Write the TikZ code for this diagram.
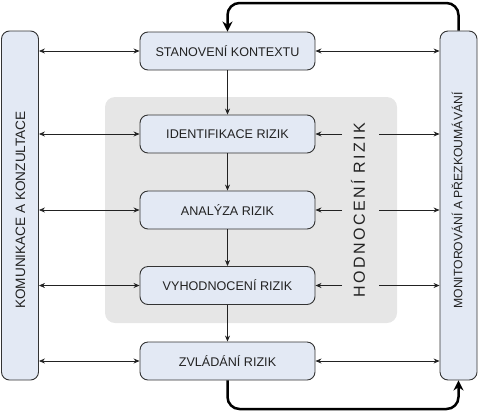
\documentclass[tikz,border=0pt]{standalone}
\usepackage{fontspec}
\setmainfont{Liberation Sans}
\newfontfamily\hodfont[LetterSpace=15]{Liberation Sans}
\usetikzlibrary{arrows.meta}
\definecolor{boxfill}{HTML}{E3E9F4}
\definecolor{greyreg}{HTML}{E6E6E6}
\definecolor{boxline}{HTML}{333333}
\definecolor{txt}{HTML}{222222}
\begin{document}
\begin{tikzpicture}[x=1pt,y=-1pt,
  box/.style={draw=boxline, fill=boxfill, rounded corners=8pt, line width=0.9pt, inner sep=0pt},
  mainbox/.style={box, minimum width=175pt, minimum height=38pt, text=txt, font=\fontsize{12.6}{14}\selectfont},
  sidebox/.style={box, minimum width=37pt, minimum height=349pt},
  sidetext/.style={rotate=90, text=txt, inner sep=0pt},
  link/.style={{Stealth[length=6pt,width=5pt]}-{Stealth[length=6pt,width=5pt]}, line width=0.7pt, draw=txt},
  arr/.style={-{Stealth[length=6pt,width=5pt]}, line width=0.7pt, draw=txt},
  loopline/.style={-{Stealth[length=10pt,width=10pt]}, line width=2.5pt, draw=black, rounded corners=12pt}
]
\useasboundingbox (0,0) rectangle (478,413);

% grey evaluation region
\node[fill=greyreg, rounded corners=10pt, minimum width=292pt, minimum height=226pt, inner sep=0pt] (hod) at (251,210) {};
\node[sidetext, font=\hodfont\fontsize{16}{18}\selectfont] (hodt) at (358,210) {HODNOCENÍ RIZIK};

% side boxes
\node[sidebox] (kom) at (20,205.5) {};
\node[sidetext, font=\fontsize{13.6}{15}\selectfont] (komt) at (20.5,210) {KOMUNIKACE A KONZULTACE};
\node[sidebox] (mon) at (458.5,205.5) {};
\node[sidetext, font=\fontsize{12.2}{14}\selectfont] (mont) at (457,200.5) {MONITOROVÁNÍ A PŘEZKOUMÁVÁNÍ};

% main boxes
\node[mainbox] (sta) at (227.5,51) {STANOVENÍ KONTEXTU};
\node[mainbox] (ide) at (227.5,134) {IDENTIFIKACE RIZIK};
\node[mainbox] (ana) at (227.5,210) {ANALÝZA RIZIK};
\node[mainbox] (vyh) at (227.5,285.5) {VYHODNOCENÍ RIZIK};
\node[mainbox] (zvl) at (227.5,361) {ZVLÁDÁNÍ RIZIK};

% vertical flow
\draw[arr] (sta.south) -- (ide.north);
\draw[arr] (ide.south) -- (ana.north);
\draw[arr] (ana.south) -- (vyh.north);
\draw[arr] (vyh.south) -- (zvl.north);

% left links
\foreach \n in {sta,ide,ana,vyh,zvl}
  \draw[link] (kom.east |- \n) -- (\n.west);

% right links
\draw[link] (sta.east) -- (mon.west |- sta);
\draw[link] (zvl.east) -- (mon.west |- zvl);
\coordinate (gl) at (342,0);
\coordinate (gr) at (379,0);
\foreach \n in {ide,ana,vyh}{
  \draw[arr] (gl |- \n) -- (\n.east);
  \draw[arr] (gr |- \n) -- (mon.west |- \n);
}

% feedback loops
\coordinate (top) at (300,3);
\coordinate (bot) at (300,409);
\draw[loopline] (mon.north) -- (mon.north |- top) -- (sta.north |- top) -- (sta.north);
\draw[loopline] (zvl.south) -- (zvl.south |- bot) -- (mon.south |- bot) -- (mon.south);
\end{tikzpicture}
\end{document}
